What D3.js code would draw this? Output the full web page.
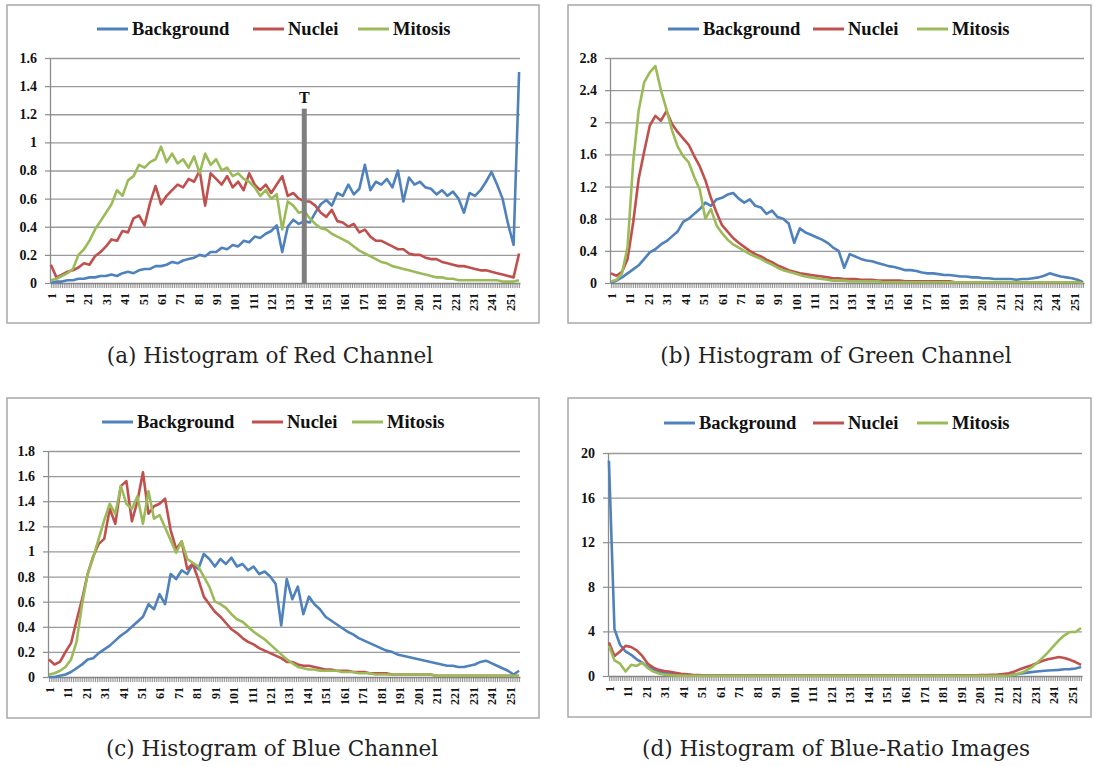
<!DOCTYPE html>
<html>
<head>
<meta charset="utf-8">
<script src="https://cdn.jsdelivr.net/npm/d3@7"></script>
<style>
  html, body { margin: 0; padding: 0; background: #ffffff; }
  svg { display: block; }
</style>
</head>
<body>
<svg id="chart" width="1094" height="766"></svg>
<script>
// ---------- DATA ----------
// intensity bins 1..256 (category axis) and the bins at which values were read (every 3rd bin)
const categories = d3.range(1, 257);
const bins = d3.range(1, 257, 3);           // 86 sampled bins: 1,4,7,...,256
const xLabelBins = d3.range(1, 257, 10);    // 1, 11, 21, ..., 251
const seriesNames = ["Background", "Nuclei", "Mitosis"];
const seriesColors = ["#4F81BD", "#C0504D", "#9BBB59"];

// y tick labels
const ticksRed   = [0, 0.2, 0.4, 0.6, 0.8, 1, 1.2, 1.4, 1.6];
const ticksGreen = [0, 0.4, 0.8, 1.2, 1.6, 2, 2.4, 2.8];
const ticksBlue  = [0, 0.2, 0.4, 0.6, 0.8, 1, 1.2, 1.4, 1.6, 1.8];
const ticksRatio = [0, 4, 8, 12, 16, 20];

// (a) Red channel
const redBackground = [
0.00,0.01,0.01,0.02,0.02,0.03,0.03,0.04,0.04,0.05,
0.05,0.06,0.05,0.07,0.08,0.07,0.09,0.10,0.10,0.12,
0.12,0.13,0.15,0.14,0.16,0.17,0.18,0.20,0.19,0.22,
0.22,0.25,0.24,0.27,0.26,0.30,0.29,0.33,0.32,0.35,
0.37,0.41,0.22,0.40,0.45,0.42,0.44,0.43,0.50,0.56,
0.59,0.55,0.64,0.62,0.70,0.63,0.67,0.84,0.66,0.72,
0.70,0.74,0.68,0.80,0.58,0.75,0.70,0.72,0.68,0.67,
0.63,0.66,0.62,0.65,0.60,0.50,0.64,0.62,0.66,0.72,
0.79,0.70,0.60,0.42,0.27,1.50];
const redNuclei = [
0.13,0.04,0.06,0.08,0.09,0.11,0.14,0.13,0.19,0.22,
0.26,0.31,0.30,0.37,0.36,0.46,0.48,0.41,0.57,0.69,
0.56,0.62,0.66,0.70,0.68,0.74,0.72,0.80,0.55,0.78,
0.74,0.70,0.76,0.68,0.72,0.66,0.78,0.70,0.66,0.70,
0.64,0.70,0.76,0.62,0.64,0.60,0.58,0.58,0.55,0.50,
0.47,0.52,0.44,0.43,0.40,0.42,0.36,0.38,0.33,0.30,
0.30,0.28,0.26,0.24,0.24,0.21,0.20,0.20,0.18,0.17,
0.17,0.15,0.14,0.13,0.12,0.12,0.11,0.10,0.09,0.09,
0.08,0.07,0.06,0.05,0.04,0.21];
const redMitosis = [
0.02,0.03,0.05,0.07,0.10,0.20,0.24,0.30,0.38,0.44,
0.50,0.56,0.66,0.62,0.73,0.76,0.84,0.82,0.86,0.88,
0.97,0.86,0.92,0.85,0.88,0.82,0.90,0.78,0.92,0.84,
0.88,0.80,0.82,0.76,0.78,0.74,0.72,0.68,0.62,0.66,
0.60,0.63,0.38,0.58,0.55,0.50,0.51,0.46,0.42,0.39,
0.38,0.35,0.33,0.31,0.29,0.26,0.23,0.21,0.19,0.17,
0.15,0.14,0.12,0.11,0.10,0.09,0.08,0.07,0.06,0.05,
0.04,0.04,0.03,0.03,0.02,0.02,0.02,0.02,0.02,0.02,
0.02,0.02,0.01,0.01,0.01,0.02];
const redThresholdBin = 139;
const redThresholdValue = 1.24;

// (b) Green channel
const greenBackground = [
0.00,0.03,0.07,0.12,0.17,0.22,0.30,0.38,0.42,0.48,
0.52,0.58,0.64,0.76,0.80,0.86,0.92,1.00,0.96,1.04,
1.06,1.10,1.12,1.05,1.00,1.04,0.96,0.94,0.86,0.90,
0.82,0.80,0.74,0.50,0.68,0.63,0.60,0.57,0.54,0.50,
0.44,0.40,0.19,0.36,0.33,0.30,0.28,0.27,0.25,0.23,
0.21,0.20,0.18,0.16,0.16,0.15,0.13,0.12,0.12,0.11,
0.10,0.10,0.09,0.08,0.08,0.07,0.07,0.06,0.06,0.05,
0.05,0.05,0.05,0.04,0.05,0.05,0.06,0.07,0.09,0.12,
0.10,0.08,0.07,0.06,0.04,0.01];
const greenNuclei = [
0.12,0.09,0.14,0.30,0.75,1.30,1.64,1.96,2.08,2.02,
2.14,1.98,1.88,1.80,1.72,1.58,1.45,1.28,1.06,0.88,
0.72,0.64,0.56,0.50,0.45,0.40,0.36,0.33,0.29,0.26,
0.22,0.19,0.16,0.14,0.12,0.11,0.10,0.09,0.08,0.07,
0.06,0.06,0.05,0.05,0.05,0.04,0.04,0.04,0.03,0.03,
0.03,0.03,0.03,0.02,0.02,0.02,0.02,0.02,0.02,0.02,
0.02,0.02,0.01,0.01,0.01,0.01,0.01,0.01,0.01,0.01,
0.01,0.01,0.01,0.01,0.01,0.01,0.01,0.01,0.01,0.01,
0.01,0.01,0.01,0.01,0.01,0.00];
const greenMitosis = [
0.02,0.04,0.12,0.45,1.50,2.15,2.50,2.62,2.70,2.40,
2.16,1.90,1.70,1.58,1.50,1.32,1.16,0.80,0.92,0.72,
0.62,0.54,0.48,0.44,0.40,0.36,0.33,0.30,0.26,0.23,
0.19,0.16,0.14,0.12,0.10,0.08,0.07,0.06,0.05,0.04,
0.03,0.03,0.03,0.02,0.02,0.02,0.02,0.02,0.02,0.01,
0.01,0.01,0.01,0.01,0.01,0.01,0.01,0.01,0.01,0.01,
0.01,0.01,0.01,0.01,0.01,0.01,0.01,0.01,0.01,0.01,
0.01,0.01,0.01,0.01,0.01,0.01,0.01,0.01,0.01,0.01,
0.01,0.01,0.01,0.01,0.01,0.00];

// (c) Blue channel
const blueBackground = [
0.00,0.00,0.01,0.02,0.04,0.07,0.10,0.14,0.15,0.19,
0.22,0.25,0.29,0.33,0.36,0.40,0.44,0.48,0.58,0.54,
0.66,0.58,0.82,0.78,0.85,0.82,0.90,0.86,0.98,0.94,
0.88,0.94,0.90,0.95,0.88,0.90,0.85,0.88,0.82,0.84,
0.80,0.74,0.41,0.78,0.62,0.72,0.50,0.64,0.58,0.54,
0.48,0.45,0.42,0.39,0.36,0.34,0.31,0.29,0.27,0.25,
0.23,0.21,0.20,0.18,0.17,0.16,0.15,0.14,0.13,0.12,
0.11,0.10,0.09,0.09,0.08,0.08,0.09,0.10,0.12,0.13,
0.11,0.09,0.07,0.05,0.02,0.05];
const blueNuclei = [
0.14,0.10,0.12,0.20,0.27,0.45,0.62,0.82,0.96,1.06,
1.10,1.34,1.22,1.52,1.56,1.24,1.40,1.63,1.30,1.36,
1.38,1.42,1.17,1.02,1.08,0.86,0.90,0.78,0.64,0.58,
0.52,0.48,0.43,0.38,0.35,0.31,0.28,0.26,0.23,0.21,
0.19,0.17,0.15,0.12,0.12,0.10,0.09,0.09,0.08,0.07,
0.06,0.06,0.05,0.05,0.05,0.04,0.04,0.04,0.03,0.03,
0.03,0.03,0.02,0.02,0.02,0.02,0.02,0.02,0.02,0.02,
0.01,0.01,0.01,0.01,0.01,0.01,0.01,0.01,0.01,0.01,
0.01,0.01,0.01,0.01,0.01,0.01];
const blueMitosis = [
0.02,0.03,0.05,0.08,0.14,0.28,0.58,0.82,0.95,1.10,
1.25,1.38,1.30,1.52,1.38,1.34,1.44,1.22,1.48,1.26,
1.29,1.19,1.09,0.99,1.08,0.94,0.91,0.88,0.80,0.72,
0.60,0.58,0.55,0.50,0.46,0.44,0.40,0.36,0.33,0.30,
0.26,0.22,0.18,0.14,0.11,0.08,0.07,0.06,0.06,0.05,
0.05,0.05,0.05,0.04,0.04,0.04,0.03,0.03,0.03,0.02,
0.02,0.02,0.02,0.02,0.02,0.02,0.02,0.02,0.02,0.02,
0.01,0.01,0.01,0.01,0.01,0.01,0.01,0.01,0.01,0.01,
0.01,0.01,0.01,0.01,0.01,0.01];

// (d) Blue-ratio images
const ratioBackground = [
19.3,4.2,2.8,2.2,1.9,1.5,1.2,0.8,0.6,0.4,
0.30,0.20,0.15,0.10,0.08,0.06,0.05,0.04,0.04,0.03,
0.03,0.03,0.03,0.03,0.03,0.03,0.03,0.03,0.03,0.03,
0.03,0.03,0.03,0.03,0.03,0.03,0.03,0.03,0.03,0.03,
0.03,0.03,0.03,0.03,0.03,0.03,0.03,0.03,0.03,0.03,
0.03,0.03,0.03,0.03,0.03,0.03,0.03,0.03,0.03,0.03,
0.03,0.03,0.03,0.03,0.04,0.04,0.04,0.05,0.05,0.05,
0.06,0.08,0.10,0.15,0.20,0.28,0.35,0.40,0.45,0.50,
0.52,0.55,0.60,0.62,0.68,0.80];
const ratioNuclei = [
3.0,1.8,2.2,2.7,2.6,2.3,1.8,1.1,0.75,0.55,
0.45,0.38,0.28,0.20,0.15,0.10,0.08,0.06,0.05,0.04,
0.03,0.03,0.03,0.03,0.03,0.03,0.03,0.03,0.03,0.03,
0.03,0.03,0.03,0.03,0.03,0.03,0.03,0.03,0.03,0.03,
0.03,0.03,0.03,0.03,0.03,0.03,0.03,0.03,0.03,0.03,
0.03,0.03,0.03,0.03,0.03,0.03,0.03,0.03,0.03,0.03,
0.04,0.05,0.05,0.06,0.06,0.07,0.07,0.08,0.08,0.10,
0.12,0.18,0.25,0.40,0.60,0.78,0.95,1.15,1.35,1.50,
1.60,1.70,1.62,1.45,1.25,1.00];
const ratioMitosis = [
2.7,1.4,1.1,0.4,1.0,0.9,1.2,0.7,0.4,0.22,
0.12,0.08,0.05,0.03,0.02,0.02,0.02,0.02,0.02,0.02,
0.02,0.02,0.02,0.02,0.02,0.02,0.02,0.02,0.02,0.02,
0.02,0.02,0.02,0.02,0.02,0.02,0.02,0.02,0.02,0.02,
0.02,0.02,0.02,0.02,0.02,0.02,0.02,0.02,0.02,0.02,
0.02,0.02,0.02,0.02,0.02,0.02,0.02,0.02,0.02,0.02,
0.02,0.02,0.02,0.02,0.02,0.02,0.02,0.02,0.02,0.02,
0.01,0.02,0.05,0.12,0.25,0.45,0.75,1.15,1.60,2.10,
2.65,3.20,3.65,3.95,3.95,4.30];

const captions = [
  "(a) Histogram of Red Channel",
  "(b) Histogram of Green Channel",
  "(c) Histogram of Blue Channel",
  "(d) Histogram of Blue-Ratio Images"
];

// ---------- LAYOUT (positions only) ----------
const panels = [
  { box: [7, 5, 539, 323],    plot: [50, 520, 58, 283],    ticks: ticksRed,
    series: [redBackground, redNuclei, redMitosis],
    legendY: 29, legendX: [97, 253, 358], caption: captions[0], capX: 270, capY: 355, threshold: true },
  { box: [568, 5, 1091, 323], plot: [610, 1084, 58, 283],  ticks: ticksGreen,
    series: [greenBackground, greenNuclei, greenMitosis],
    legendY: 29, legendX: [668, 813, 917], caption: captions[1], capX: 836, capY: 355 },
  { box: [7, 398, 539, 718],  plot: [48, 520, 451, 677],   ticks: ticksBlue,
    series: [blueBackground, blueNuclei, blueMitosis],
    legendY: 422, legendX: [102, 252, 352], caption: captions[2], capX: 272, capY: 748 },
  { box: [568, 398, 1091, 717], plot: [608, 1082, 453, 676], ticks: ticksRatio,
    series: [ratioBackground, ratioNuclei, ratioMitosis],
    legendY: 423, legendX: [664, 813, 917], caption: captions[3], capX: 836, capY: 748 }
];

// ---------- DRAW ----------
const svg = d3.select("#chart");
const serif = "'Liberation Serif','Times New Roman',serif";
const labelSet = new Set(xLabelBins);
const axisGray = "#8c8c8c";

panels.forEach(p => {
  const g = svg.append("g");
  const [bx0, by0, bx1, by1] = p.box;
  g.append("rect")
    .attr("x", bx0).attr("y", by0)
    .attr("width", bx1 - bx0).attr("height", by1 - by0)
    .attr("fill", "#fff").attr("stroke", "#a8a8a8").attr("stroke-width", 1.5);

  const [px0, px1, pyTop, pyBot] = p.plot;
  const x = d3.scaleLinear().domain([0.5, 256.5]).range([px0, px1]);
  const y = d3.scaleLinear().domain([0, p.ticks[p.ticks.length - 1]]).range([pyBot, pyTop]);

  // gridlines
  const grid = g.append("g").attr("transform", `translate(${px0},0)`)
    .call(d3.axisLeft(y).tickValues(p.ticks.slice(1)).tickSize(-(px1 - px0)).tickFormat(""));
  grid.select(".domain").remove();
  grid.selectAll("line").attr("stroke", "#9a9a9a").attr("stroke-width", 1.3);

  // y axis
  const ya = g.append("g").attr("transform", `translate(${px0},0)`)
    .call(d3.axisLeft(y).tickValues(p.ticks).tickSize(5).tickSizeOuter(0).tickPadding(8)
      .tickFormat(d3.format("~g")));
  ya.select(".domain").attr("stroke", axisGray).attr("stroke-width", 1.3);
  ya.selectAll(".tick line").attr("stroke", axisGray).attr("stroke-width", 1.2);
  ya.selectAll("text")
    .attr("font-family", serif).attr("font-weight", "bold")
    .attr("font-size", 14).attr("fill", "#111");

  // x axis (category comb + rotated labels)
  const xa = g.append("g").attr("transform", `translate(0,${pyBot})`)
    .call(d3.axisBottom(x).tickValues(categories).tickSize(5).tickSizeOuter(0)
      .tickFormat(d => labelSet.has(d) ? String(d) : ""));
  xa.select(".domain").attr("stroke", axisGray).attr("stroke-width", 1.3);
  xa.selectAll(".tick line").attr("stroke", "#7a7a7a").attr("stroke-width", 0.8);
  xa.selectAll("text")
    .attr("transform", "rotate(-90)")
    .attr("text-anchor", "end")
    .attr("x", -10).attr("y", 0).attr("dy", "0.36em")
    .attr("font-family", serif).attr("font-weight", "bold")
    .attr("font-size", 12).attr("fill", "#111");

  // series
  const line = d3.line().x((d, i) => x(bins[i])).y(d => y(d));
  p.series.forEach((s, k) => {
    g.append("path").datum(s)
      .attr("d", line)
      .attr("fill", "none")
      .attr("stroke", seriesColors[k])
      .attr("stroke-width", 2.6)
      .attr("stroke-linejoin", "round");
  });

  // threshold marker (red channel)
  if (p.threshold) {
    g.append("rect")
      .attr("x", x(redThresholdBin) - 2.5).attr("width", 5)
      .attr("y", y(redThresholdValue)).attr("height", y(0) - y(redThresholdValue))
      .attr("fill", "#7f7f7f");
    g.append("text")
      .attr("x", x(redThresholdBin)).attr("y", y(redThresholdValue) - 6)
      .attr("text-anchor", "middle")
      .attr("font-family", serif).attr("font-weight", "bold").attr("font-size", 16)
      .attr("fill", "#111").text("T");
  }

  // legend
  seriesNames.forEach((name, k) => {
    const lx = p.legendX[k];
    g.append("line")
      .attr("x1", lx).attr("x2", lx + 31)
      .attr("y1", p.legendY).attr("y2", p.legendY)
      .attr("stroke", seriesColors[k]).attr("stroke-width", 3);
    g.append("text")
      .attr("x", lx + 35).attr("y", p.legendY).attr("dy", "0.34em")
      .attr("font-family", serif).attr("font-weight", "bold").attr("font-size", 18.5)
      .attr("fill", "#111").text(name);
  });

  // caption
  svg.append("text")
    .attr("x", p.capX).attr("y", p.capY).attr("dy", "0.35em")
    .attr("text-anchor", "middle")
    .attr("font-family", "'DejaVu Serif', serif").attr("font-size", 21.5)
    .attr("fill", "#222").text(p.caption);
});
</script>
</body>
</html>
